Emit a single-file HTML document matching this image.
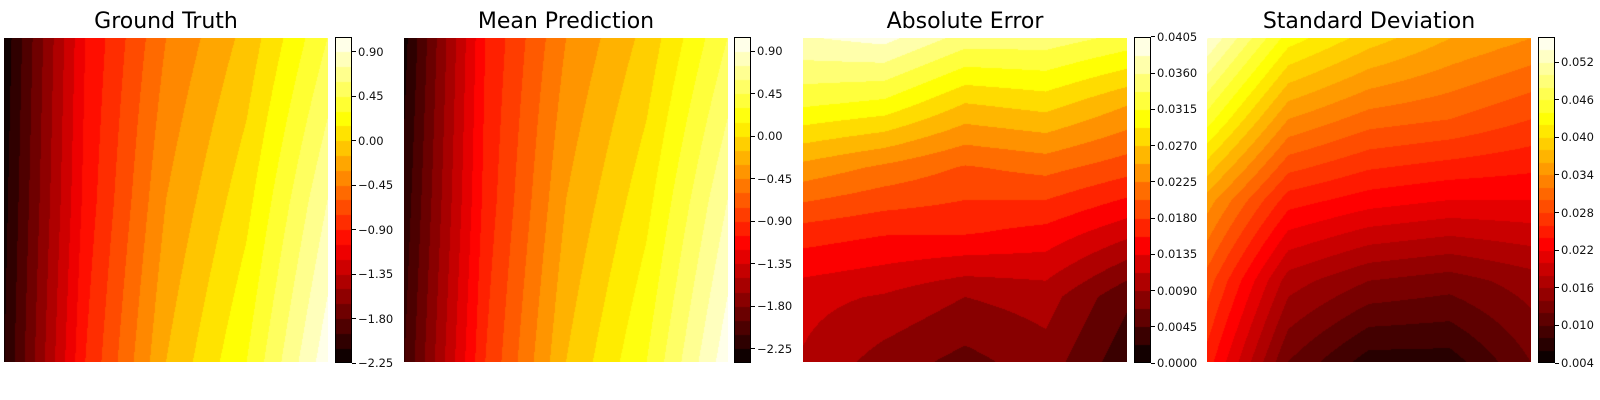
<!DOCTYPE html>
<html><head><meta charset="utf-8">
<style>
body{margin:0;background:#fff;width:1600px;height:400px;overflow:hidden;font-family:"Liberation Sans","DejaVu Sans",sans-serif;}
.title{position:absolute;font-size:22px;color:#000;text-align:center;white-space:nowrap;font-family:"DejaVu Sans","Liberation Sans",sans-serif;}
.tick{position:absolute;font-size:11.5px;color:#111;white-space:nowrap;font-family:"DejaVu Sans","Liberation Sans",sans-serif;}
.tk{position:absolute;height:1px;width:4px;background:#000;}
canvas{position:absolute;}
.cbframe{position:absolute;border:1px solid #000;box-sizing:border-box;}
</style></head>
<body>
<div id="root"></div>
<script>
// ---- data (coarse field grids; rows top->bottom, cols left->right) ----
const titles = ["Ground Truth","Mean Prediction","Absolute Error","Standard Deviation"];
const gtGrid = [
  [-2.2,-1.05,-0.45,-0.1,0.45],
  [-2.15,-1.0,-0.3,0.1,0.75],
  [-2.1,-0.9,-0.15,0.3,1.0]
];
const predGrid = [
  [-2.3,-1.05,-0.45,-0.1,0.45],
  [-2.2,-1.0,-0.3,0.1,0.75],
  [-2.1,-0.9,-0.15,0.3,1.0]
];
const errGrid = [
  [0.038,0.039,0.035,0.035,0.033],
  [0.032,0.031,0.027,0.028,0.025],
  [0.024,0.022,0.020,0.021,0.019],
  [0.017,0.016,0.016,0.015,0.012],
  [0.012,0.011,0.009,0.010,0.005],
  [0.011,0.008,0.006,0.008,0.003]
];
const stdGrid = [
  [0.054,0.043,0.039,0.036,0.034],
  [0.045,0.034,0.031,0.030,0.028],
  [0.035,0.025,0.023,0.022,0.022],
  [0.029,0.017,0.014,0.013,0.015],
  [0.025,0.012,0.007,0.007,0.012]
];
const levelMin = [-2.25,-2.40,0.0,0.004];
const levelStep = [0.15,0.15,0.00225,0.002];
const levelCount = [22,23,18,26];
const tickLabels = [
  ["\u22122.25","\u22121.80","\u22121.35","\u22120.90","\u22120.45","0.00","0.45","0.90"],
  ["\u22122.25","\u22121.80","\u22121.35","\u22120.90","\u22120.45","0.00","0.45","0.90"],
  ["0.0000","0.0045","0.0090","0.0135","0.0180","0.0225","0.0270","0.0315","0.0360","0.0405"],
  ["0.004","0.010","0.016","0.022","0.028","0.034","0.040","0.046","0.052"]
];
const tickValues = [
  [-2.25,-1.80,-1.35,-0.90,-0.45,0,0.45,0.90],
  [-2.25,-1.80,-1.35,-0.90,-0.45,0,0.45,0.90],
  [0,0.0045,0.009,0.0135,0.018,0.0225,0.027,0.0315,0.036,0.0405],
  [0.004,0.010,0.016,0.022,0.028,0.034,0.040,0.046,0.052]
];
const grids = [gtGrid,predGrid,errGrid,stdGrid];
// ---- layout ----
const panelX = [4,404,803,1207], panelW = 324, panelY = 38, panelH = 324;
const cbX = [335,734,1134,1538], cbW = 17, cbY = 37, cbH = 326;
const names = ["ground-truth","mean-prediction","absolute-error","standard-deviation"];

function hot(t){
  t=Math.max(0,Math.min(1,t));
  const r=Math.min(1,t/0.365079), g=Math.max(0,Math.min(1,(t-0.365079)/(0.746032-0.365079))), b=Math.max(0,Math.min(1,(t-0.746032)/0.253968));
  return [Math.round(r*255),Math.round(g*255),Math.round(b*255)];
}
function sample(grid,u,v){
  const R=grid.length-1,C=grid[0].length-1;
  const fy=v*R, fx=u*C;
  const i=Math.min(R-1,Math.floor(fy)), j=Math.min(C-1,Math.floor(fx));
  const dy=fy-i, dx=fx-j;
  const a=grid[i][j],b=grid[i][j+1],c=grid[i+1][j],d=grid[i+1][j+1];
  return a*(1-dx)*(1-dy)+b*dx*(1-dy)+c*(1-dx)*dy+d*dx*dy;
}
const root=document.getElementById('root');
for(let p=0;p<4;p++){
  const n=levelCount[p], vmin=levelMin[p], st=levelStep[p], vmax=vmin+n*st;
  const t=document.createElement('div');
  t.className='title';
  
  
  t.textContent=titles[p];
  t.style.left=panelX[p]+'px';t.style.width=panelW+'px';t.style.top='9px';
  root.appendChild(t);
  const cv=document.createElement('canvas');
  
  
  cv.width=panelW;cv.height=panelH;
  cv.style.left=panelX[p]+'px';cv.style.top=panelY+'px';
  root.appendChild(cv);
  const ctx=cv.getContext('2d');
  const img=ctx.createImageData(panelW,panelH);
  for(let y=0;y<panelH;y++)for(let x=0;x<panelW;x++){
    const v=sample(grids[p],x/(panelW-1),y/(panelH-1));
    let k=Math.floor((v-vmin)/st); k=Math.max(0,Math.min(n-1,k));
    const c=hot((k+0.5)/n), o=(y*panelW+x)*4;
    img.data[o]=c[0];img.data[o+1]=c[1];img.data[o+2]=c[2];img.data[o+3]=255;
  }
  ctx.putImageData(img,0,0);
  const cb=document.createElement('canvas');
  
  
  cb.width=cbW;cb.height=cbH;cb.style.left=cbX[p]+'px';cb.style.top=cbY+'px';
  root.appendChild(cb);
  const c2=cb.getContext('2d');
  for(let k=0;k<n;k++){
    const c=hot((k+0.5)/n);
    c2.fillStyle='rgb('+c.join(',')+')';
    const y0=cbH-(k+1)*cbH/n, y1=cbH-k*cbH/n;
    c2.fillRect(0,Math.floor(y0),cbW,Math.ceil(y1)-Math.floor(y0));
  }
  const fr=document.createElement('div');
  fr.className='cbframe';
  
  
  fr.style.left=cbX[p]+'px';fr.style.top=cbY+'px';fr.style.width=cbW+'px';fr.style.height=cbH+'px';
  root.appendChild(fr);
  for(let i=0;i<tickValues[p].length;i++){
    const y=cbY+cbH-(tickValues[p][i]-vmin)/(vmax-vmin)*cbH;
    const tk=document.createElement('div');
    tk.className='tk';
    
    
    tk.style.left=(cbX[p]+cbW)+'px';tk.style.top=Math.round(y-0.5)+'px';
    root.appendChild(tk);
    const lb=document.createElement('div');
    lb.className='tick';
    
    
    lb.textContent=tickLabels[p][i];
    lb.style.left=(cbX[p]+cbW+6)+'px';lb.style.top=Math.round(y-7)+'px';
    root.appendChild(lb);
  }
}
</script>
</body></html>
